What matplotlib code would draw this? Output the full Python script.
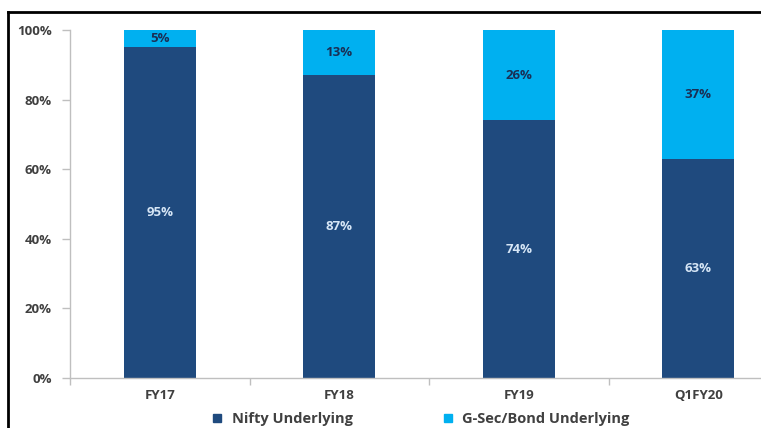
import matplotlib
matplotlib.use("Agg")
import matplotlib.pyplot as plt
from matplotlib.lines import Line2D
import numpy as np

categories = ["FY17", "FY18", "FY19", "Q1FY20"]
nifty = [95, 87, 74, 63]
gsec = [5, 13, 26, 37]
series_names = ["Nifty Underlying", "G-Sec/Bond Underlying"]
ytick_labels = ["0%", "20%", "40%", "60%", "80%", "100%"]

navy = "#1f4a7e"
cyan = "#00b0f0"
grey_txt = "#404040"
axis_grey = "#bfbfbf"

plt.rcParams['font.family'] = ['Open Sans', 'DejaVu Sans']

W, H = 761, 428
fig = plt.figure(figsize=(W / 100, H / 100), dpi=100)

# axes: x from 70 to ~788 px (cropped on right), y from 30 (100%) to 378 (0%)
left, right = 70, 788
top, bottom = 30, 378
ax = fig.add_axes([left / W, (H - bottom) / H, (right - left) / W, (bottom - top) / H])

x = np.arange(len(categories))
b1 = ax.bar(x, nifty, width=0.4, color=navy, zorder=2)
b2 = ax.bar(x, gsec, width=0.4, bottom=nifty, color=cyan, zorder=2)

ax.bar_label(b1, labels=[f"{v}%" for v in nifty], label_type="center",
             color="#d6e6f6", fontsize=9.5, fontweight="bold")
ax.bar_label(b2, labels=[f"{v}%" for v in gsec], label_type="center",
             color="#1a2f55", fontsize=9.5, fontweight="bold")

ax.set_xlim(-0.5, len(categories) - 0.5)
ax.set_ylim(0, 100)
ax.set_yticks(np.arange(0, 101, 20))
ax.set_yticklabels(ytick_labels, fontsize=9.5, fontweight="bold", color=grey_txt)
ax.set_xticks(x)
ax.set_xticklabels(categories, fontsize=9.5, fontweight="bold", color=grey_txt)
ax.tick_params(axis="x", length=0, pad=8)
ax.set_xticks(np.arange(-0.5, len(categories), 1.0), minor=True)
ax.tick_params(axis="x", which="minor", length=5, color=axis_grey, width=1)
ax.tick_params(axis="y", length=6, color=axis_grey, width=1, pad=7)

for s in ["top", "right"]:
    ax.spines[s].set_visible(False)
for s in ["left", "bottom"]:
    ax.spines[s].set_color(axis_grey)
    ax.spines[s].set_linewidth(1)

# legend
handles = [Line2D([], [], marker="s", linestyle="none", markersize=5.5,
                  markerfacecolor=c, markeredgecolor=c) for c in (navy, cyan)]
fig.legend(handles, series_names, loc="center", bbox_to_anchor=(416 / W, 1 - 419 / H),
           ncol=2, frameon=False, columnspacing=5.5, handletextpad=0.0,
           prop={"weight": "bold", "size": 10.5}, labelcolor=grey_txt)

# screenshot frame: top and left borders
fig.add_artist(Line2D([8 / W, 1], [1 - 12 / H, 1 - 12 / H], color="black", lw=2,
                      transform=fig.transFigure))
fig.add_artist(Line2D([8 / W, 8 / W], [0, 1 - 12 / H], color="black", lw=2,
                      transform=fig.transFigure))

fig.savefig("out.png", dpi=100)
